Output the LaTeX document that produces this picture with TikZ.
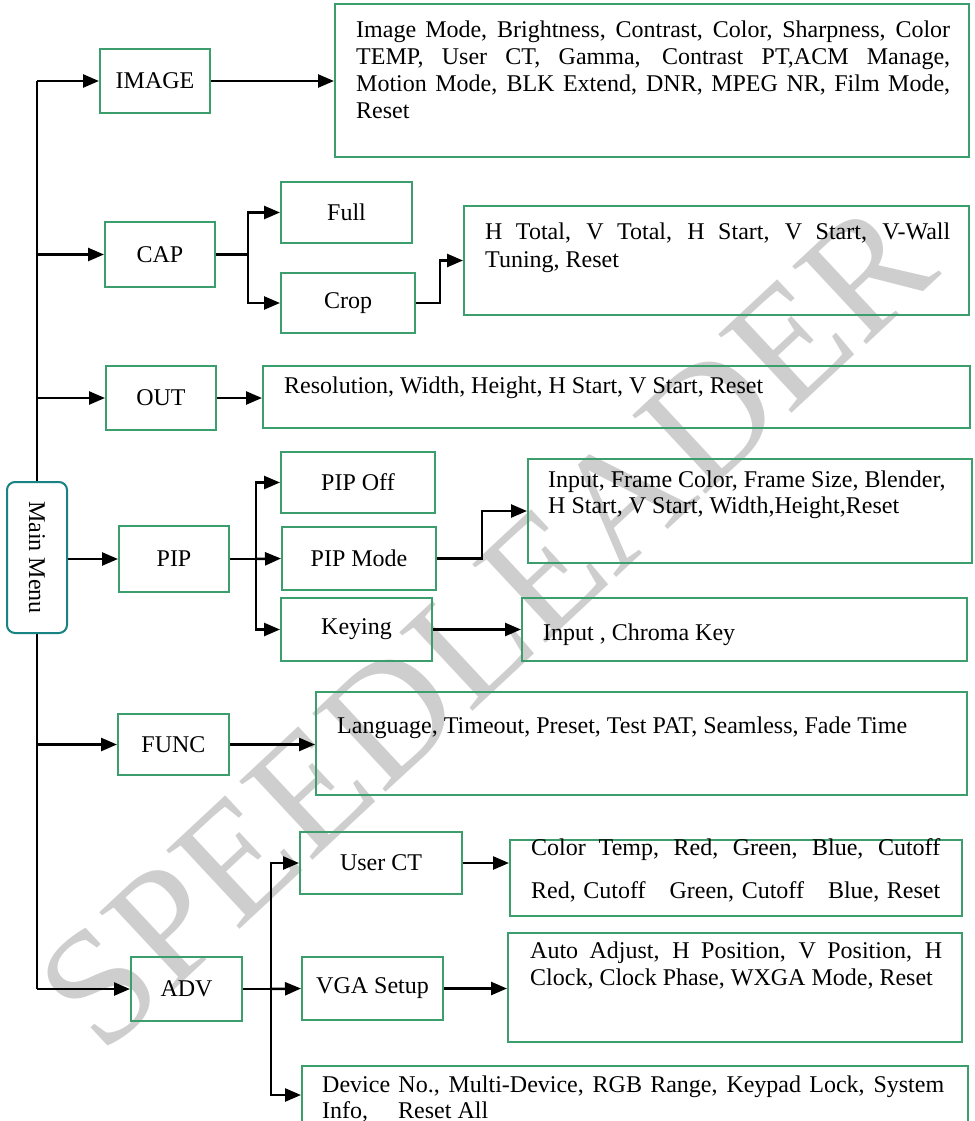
\documentclass[tikz,border=0pt]{standalone}
\usepackage{fontspec}
\setmainfont{Liberation Serif}
\usetikzlibrary{arrows.meta}
\definecolor{boxgreen}{RGB}{60,158,108}
\definecolor{menuteal}{RGB}{25,130,130}
\definecolor{wmgray}{RGB}{206,206,206}
\newcommand{\jl}[1]{\makebox[\linewidth][s]{#1}}
\begin{document}
\begin{tikzpicture}[x=1pt,y=-1pt,
  box/.style={draw=boxgreen, line width=2pt, rectangle, inner sep=0pt, font=\fontsize{24}{27}\selectfont},
  conn/.style={line width=2.5pt, -{Triangle[length=16pt,width=13pt]}},
  trunk/.style={line width=2.5pt},
  txt/.style={anchor=base west, inner sep=0pt, font=\fontsize{24}{27}\selectfont},
  wm/.style={text=wmgray, inner sep=0pt, font=\fontsize{164}{164}\selectfont, rotate=43}]
\clip (0,0) rectangle (974,1121);
\fill[white] (0,0) rectangle (974,1121);
% watermark
\node[wm] (wmark) at (486,626) {SPEEDLEADER};
% trunk
\coordinate (ttop) at (37,81);
\coordinate (tbot) at (37,989);
\draw[trunk] (ttop) -- (tbot);
% main menu
\node[draw=menuteal, line width=2pt, fill=white, rounded corners=8pt, rotate=-90,
      minimum width=151pt, minimum height=60pt, inner sep=0pt,
      font=\fontsize{24}{27}\selectfont] (mainmenu) at (37,557.5) {Main Menu};
% first-level boxes
\node[box, minimum width=110pt, minimum height=64pt] (image) at (155,81) {IMAGE};
\node[box, minimum width=110pt, minimum height=65pt] (cap) at (160,254.5) {CAP};
\node[box, minimum width=110pt, minimum height=64pt] (out) at (161,398) {OUT};
\node[box, minimum width=110pt, minimum height=66pt] (pip) at (174,559) {PIP};
\node[box, minimum width=111pt, minimum height=61pt] (func) at (173.5,744.5) {FUNC};
\node[box, minimum width=111pt, minimum height=64pt] (adv) at (186.5,989) {ADV};
% second-level boxes
\node[box, minimum width=131pt, minimum height=61pt] (full) at (346.5,212.5) {Full};
\node[box, minimum width=134pt, minimum height=60pt] (crop) at (348,303) {Crop};
\node[box, minimum width=154pt, minimum height=61pt] (pipoff) at (358,482.5) {PIP Off};
\node[box, minimum width=154pt, minimum height=63pt] (pipmode) at (359,558.5) {PIP Mode};
\node[box, minimum width=151pt, minimum height=63pt] (keying) at (356.5,629.5) {Keying};
\node[box, minimum width=162pt, minimum height=62pt] (userct) at (381,863) {User CT};
\node[box, minimum width=141pt, minimum height=63pt] (vga) at (372.5,988.5) {VGA Setup};
% content boxes
\node[box, minimum width=634pt, minimum height=153pt] (imgC) at (652,80.5) {};
\node[box, minimum width=505pt, minimum height=109pt] (capC) at (716.5,260.5) {};
\node[box, minimum width=707pt, minimum height=62pt] (outC) at (616.5,397) {};
\node[box, minimum width=444pt, minimum height=104pt] (pipC) at (750,511) {};
\node[box, minimum width=445pt, minimum height=63pt] (keyC) at (744.5,629.5) {};
\node[box, minimum width=651pt, minimum height=103pt] (funcC) at (641.5,743.5) {};
\node[box, minimum width=452pt, minimum height=76pt] (uctC) at (736,878) {};
\node[box, minimum width=454pt, minimum height=109pt] (vgaC) at (735,987.5) {};
\node[box, minimum width=666pt, minimum height=58pt] (devC) at (635,1095) {};
% content texts
\node[txt] (imgCt) at (356,38) {\parbox[t]{594pt}{%
  \jl{Image Mode, Brightness, Contrast, Color, Sharpness, Color}\\
  \jl{TEMP, User CT, Gamma, Contrast PT,ACM Manage,}\\
  \jl{Motion Mode, BLK Extend, DNR, MPEG NR, Film Mode,}\\
  Reset}};
\node[txt] (capCt) at (485,239) {\parbox[t]{465pt}{\fontsize{24}{28}\selectfont
  \jl{H Total, V Total, H Start, V Start, V-Wall}\\
  Tuning, Reset}};
\node[txt] (outCt) at (284,393) {Resolution, Width, Height, H Start, V Start, Reset};
\node[txt] (pipCt) at (548,487) {\parbox[t]{410pt}{\fontsize{24}{26}\selectfont
  Input, Frame Color, Frame Size, Blender,\\
  H Start, V Start, Width,Height,Reset}};
\node[txt] (keyCt) at (543,640) {Input , Chroma Key};
\node[txt] (funcCt) at (337,733) {Language, Timeout, Preset, Test PAT, Seamless, Fade Time};
\node[txt] (uctCt) at (531,855) {\parbox[t]{409pt}{\fontsize{24}{43}\selectfont
  \jl{Color Temp, Red, Green, Blue, Cutoff}\\
  \jl{Red, Cutoff\quad Green, Cutoff\quad Blue, Reset}}};
\node[txt] (vgaCt) at (530,958) {\parbox[t]{412pt}{\fontsize{24}{27}\selectfont
  \jl{Auto Adjust, H Position, V Position, H}\\
  Clock, Clock Phase, WXGA Mode, Reset}};
\node[txt] (devCt) at (322,1092) {\parbox[t]{622pt}{\fontsize{24}{26}\selectfont
  \jl{Device No., Multi-Device, RGB Range, Keypad Lock, System}\\
  Info,\quad\ Reset All}};
% junction coordinates
\coordinate (capj) at (248,254.5);
\coordinate (cropk) at (440,303);
\coordinate (pipj) at (256,559);
\coordinate (pipk) at (482,558.5);
\coordinate (advj) at (271,989);
% trunk arrows
\draw[conn] (ttop) -- (image.west);
\draw[conn] (ttop |- cap.west) -- (cap.west);
\draw[conn] (ttop |- out.west) -- (out.west);
\draw[conn] (mainmenu.north |- pip.west) -- (pip.west);
\draw[conn] (ttop |- func.west) -- (func.west);
\draw[conn] (tbot) -- (adv.west);
% IMAGE
\draw[conn] (image.east) -- (imgC.west |- image.east);
% CAP
\draw[trunk] (cap.east) -- (capj);
\draw[conn] (capj) |- (full.west);
\draw[conn] (capj) |- (crop.west);
\draw[conn] (crop.east) -- (cropk) |- (capC.west);
% OUT
\draw[conn] (out.east) -- (outC.west |- out.east);
% PIP
\draw[trunk] (pip.east) -- (pipj);
\draw[conn] (pipj) |- (pipoff.west);
\draw[conn] (pipj) -- (pipmode.west);
\draw[conn] (pipj) |- (keying.west);
\draw[conn] (pipmode.east) -- (pipk) |- (pipC.west);
\draw[conn] (keying.east) -- (keyC.west);
% FUNC
\draw[conn] (func.east) -- (funcC.west |- func.east);
% ADV
\draw[trunk] (adv.east) -- (advj);
\draw[conn] (advj) |- (userct.west);
\draw[conn] (advj) -- (vga.west);
\draw[conn] (advj) |- (devC.west);
\draw[conn] (userct.east) -- (uctC.west |- userct.east);
\draw[conn] (vga.east) -- (vgaC.west |- vga.east);
\end{tikzpicture}
\end{document}
